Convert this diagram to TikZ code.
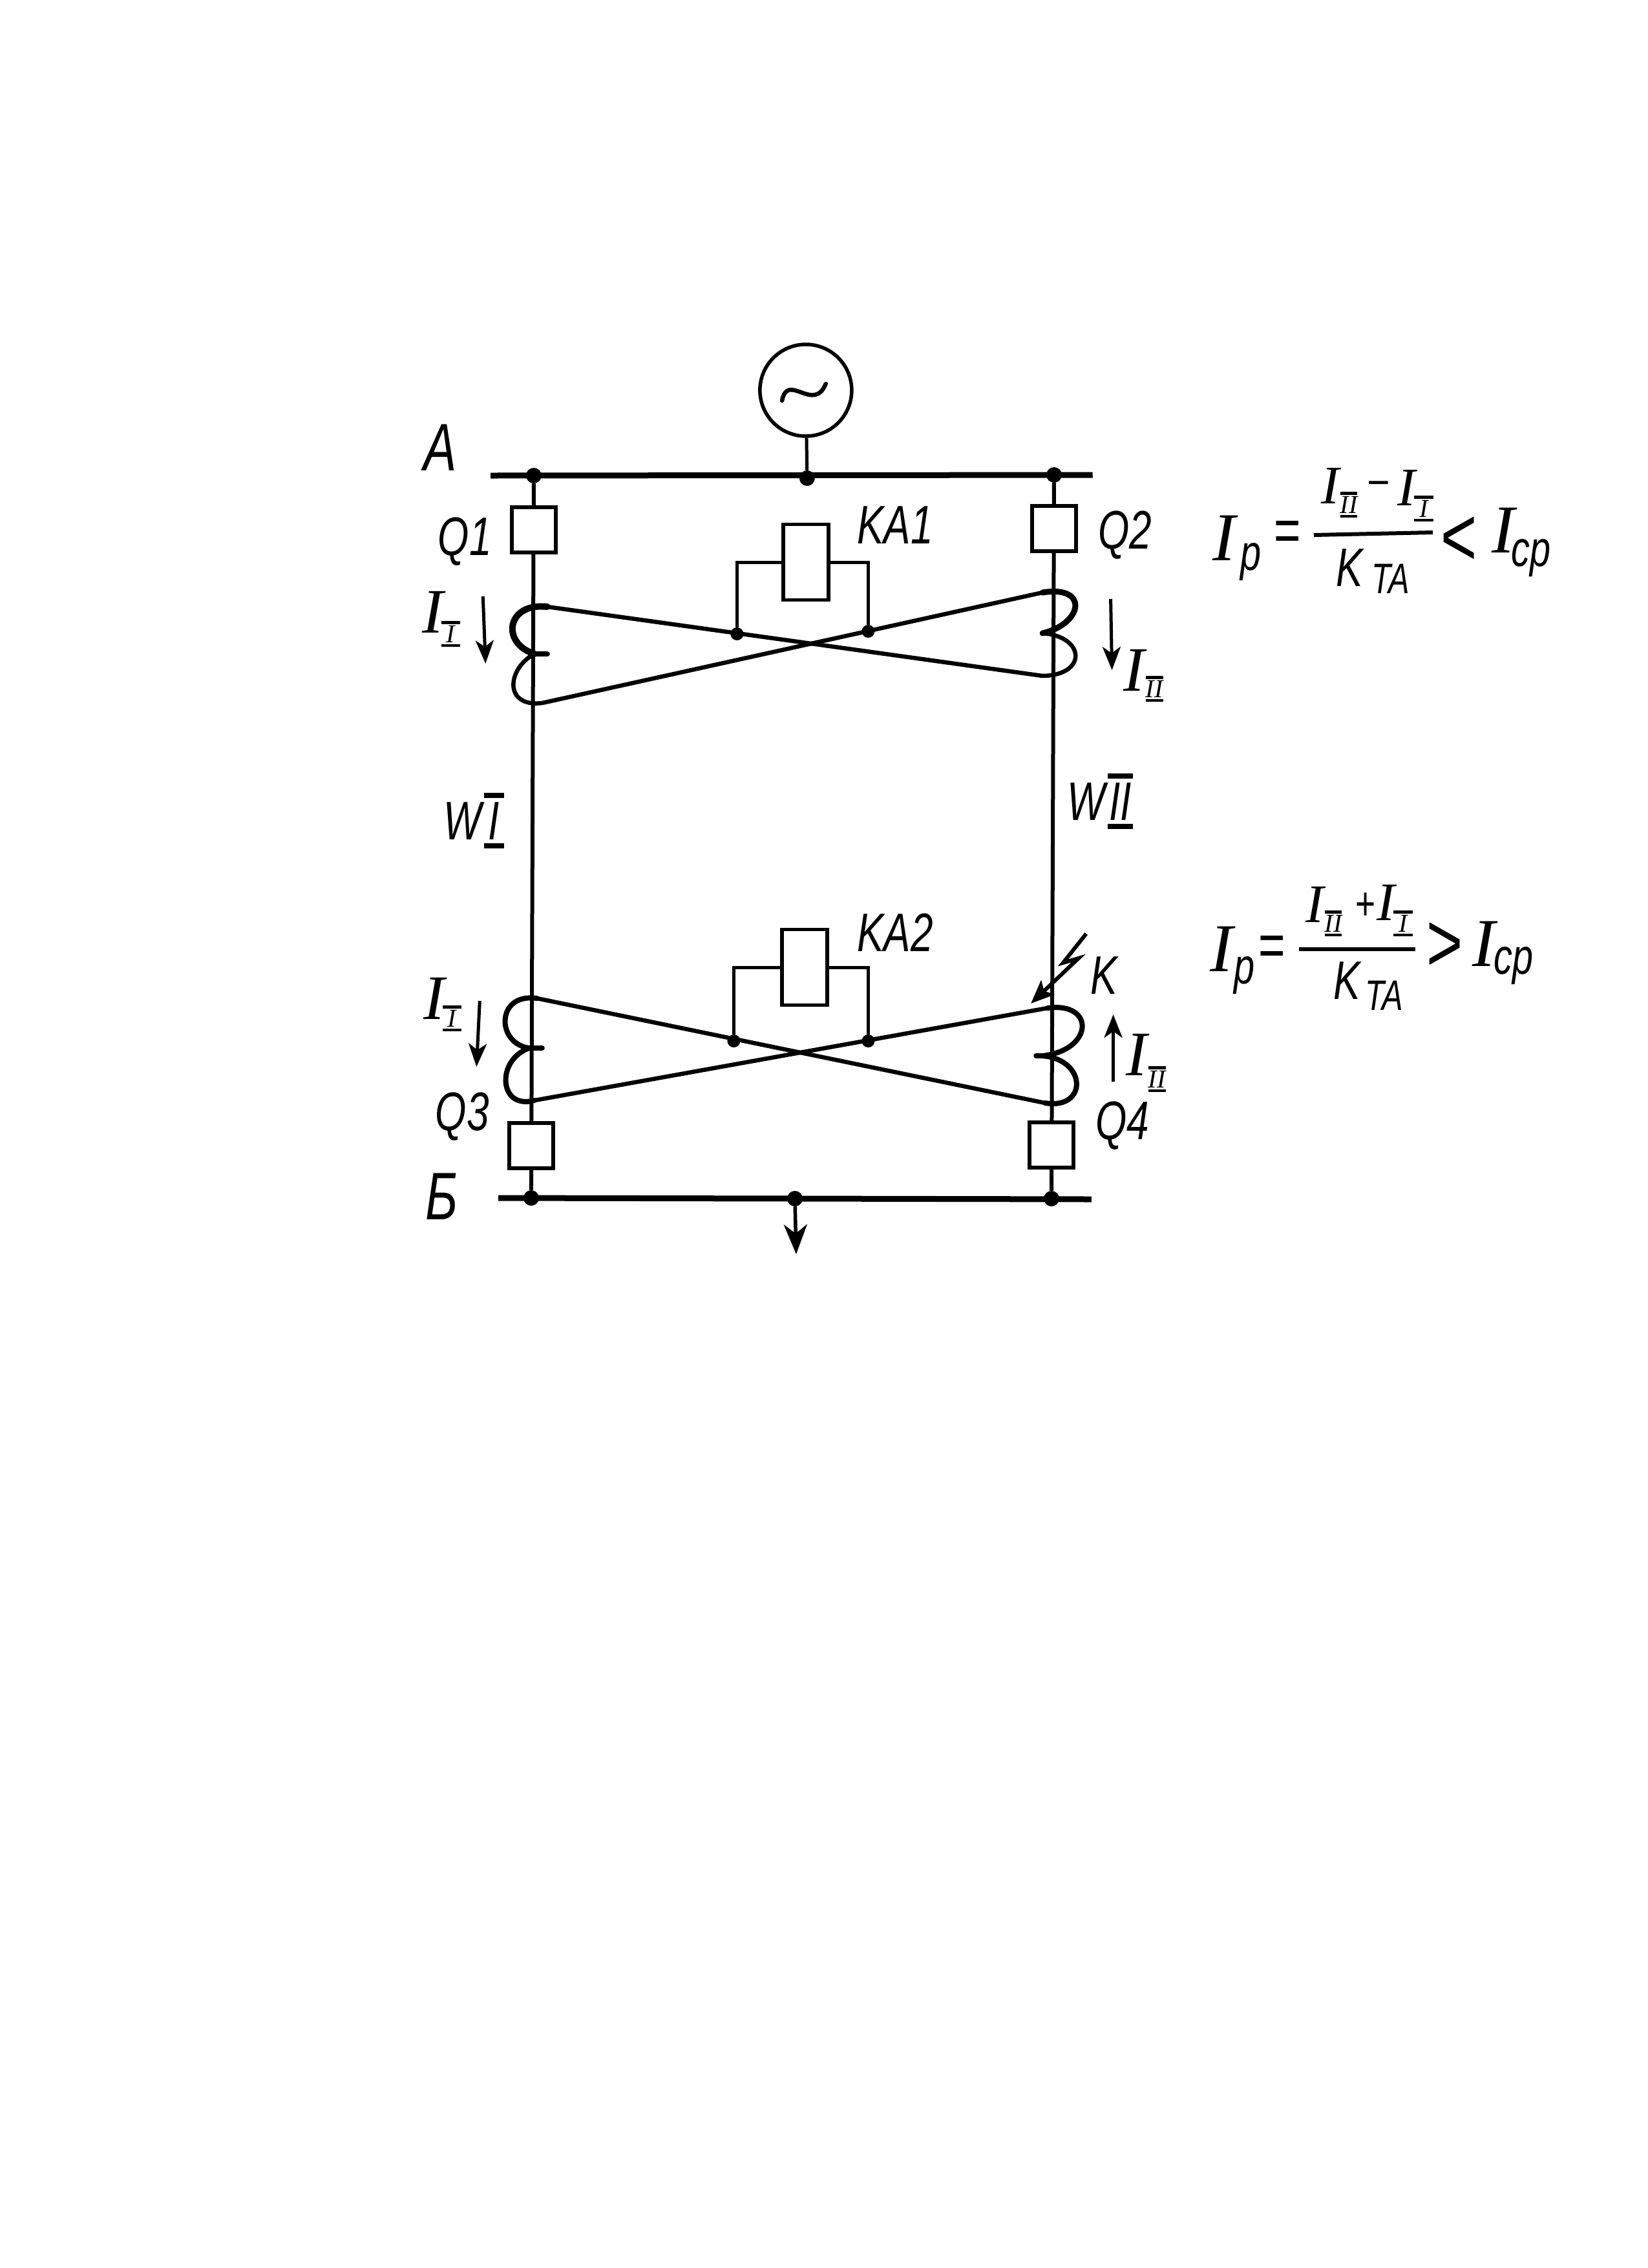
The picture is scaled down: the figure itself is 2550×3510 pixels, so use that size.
\documentclass[tikz,border=0pt]{standalone}
\usepackage{fontspec}
\usetikzlibrary{arrows.meta}
\newfontfamily\sanslab{Liberation Sans}[ItalicFont=* Italic,FakeStretch=.74]
\newfontfamily\seriflab{Liberation Serif}[ItalicFont=* Italic]
\newcommand\barw{.12em}
\newcommand\barred[1]{\setbox0\hbox{#1}\rlap{\rule[-.16em]{\wd0}{\barw}}\rlap{\rule[\dimexpr\ht0+.08em]{\wd0}{\barw}}\box0}
\tikzset{
  bus/.style={line width=9pt},
  wire/.style={line width=6pt},
  cross/.style={line width=6.5pt},
  coil/.style={line width=8pt,line cap=round},
  thinline/.style={line width=5pt},
  cur/.style={line width=5pt,-{Stealth[length=36pt,width=28pt,inset=10pt]}},
  brk/.style={draw,line width=5.5pt,fill=white,minimum width=68pt,minimum height=70pt,inner sep=0pt},
  relay/.style={draw,line width=5.5pt,fill=white,minimum width=70pt,minimum height=117pt,inner sep=0pt},
  dot/.style={circle,fill=black,minimum size=24pt,inner sep=0pt},
  smalldot/.style={circle,fill=black,minimum size=20pt,inner sep=0pt},
  lab/.style={inner sep=0pt,font=\sanslab\itshape\fontsize{84}{84}\selectfont},
  big/.style={inner sep=0pt,font=\sanslab\itshape\fontsize{104}{104}\selectfont},
  cur I/.style={inner sep=0pt,font=\seriflab\itshape\fontsize{98}{98}\selectfont},
  frac I/.style={inner sep=0pt,font=\seriflab\itshape\fontsize{84}{84}\selectfont},
  main I/.style={inner sep=0pt,font=\seriflab\itshape\fontsize{106}{106}\selectfont},
  sub/.style={inner sep=0pt,font=\seriflab\itshape\fontsize{40}{40}\selectfont},
  small/.style={inner sep=0pt,font=\sanslab\itshape\fontsize{66}{66}\selectfont},
  mid/.style={inner sep=0pt,font=\sanslab\itshape\fontsize{78}{78}\selectfont},
  op/.style={inner sep=0pt,font=\sanslab\fontsize{72}{72}\selectfont},
  rel/.style={inner sep=0pt,font=\sanslab\fontsize{130}{130}\selectfont},
}
\begin{document}
\begin{tikzpicture}[x=1pt,y=-1pt]
\useasboundingbox (0,0) rectangle (2550,3510);
\fill[white] (0,0) rectangle (2550,3510);
\begin{scope}[x=.9952pt,xshift=2.88pt]
% buses
\coordinate (aL) at (760,736); \coordinate (aR) at (1696,735);
\coordinate (bL) at (772,1854); \coordinate (bR) at (1694,1856);
\draw[bus] (aL) -- (aR);
\draw[bus] (bL) -- (bR);
\node[dot] (a1) at (827,736) {};
\node[dot] (a2) at (1252,740) {};
\node[dot] (a3) at (1636,735) {};
\node[dot] (b1) at (823,1854) {};
\node[dot] (b2) at (1233,1855) {};
\node[dot] (b3) at (1632,1855) {};
% generator
\node[circle,draw,line width=5.5pt,fill=white,minimum size=142pt,inner sep=0pt] (gen) at (1250,604) {};
\draw[line width=5pt] (gen) -- (a2);
\coordinate (t1) at (1213,620); \coordinate (t2) at (1281,594);
\draw[line width=6.5pt,line cap=round] (t1) .. controls (1222,575) and (1262,640) .. (t2);
% main vertical wires
\draw[wire] (a1) -- (b1);
\draw[wire] (a3) -- (b3);
% breakers
\node[brk] (Q1) at (827,820) {};
\node[brk] (Q2) at (1636,818) {};
\node[brk] (Q3) at (823,1773) {};
\node[brk] (Q4) at (1632,1772) {};
% load
\coordinate (load) at (1235,1941);
\draw[line width=5.5pt,-{Stealth[length=46pt,width=36pt,inset=14pt]}] (b2) -- (load);
% upper relay
\coordinate (c1) at (848,939); \coordinate (c2) at (1618,1046);
\coordinate (c3) at (840,1088); \coordinate (c4) at (1618,917);
\draw[cross] (c1) -- (c2);
\draw[cross] (c3) -- (c4);
\node[smalldot] (d1) at (1143,981) {};
\node[smalldot] (d2) at (1347,977) {};
\node[relay] (KA1) at (1250,870) {};
\draw[thinline] (d1) |- (KA1.west);
\draw[thinline] (d2) |- (KA1.east);
% upper coils
\coordinate (m1) at (828,1012); \coordinate (tk1) at (848,1012);
\coordinate (m2) at (1618,980);
\draw[line width=10pt,line cap=round] (c1) .. controls (785,932) and (775,995) .. (m1);
\draw[coil] (m1) -- (tk1);
\draw[line width=6.5pt] (m1) .. controls (785,1035) and (780,1095) .. (c3);
\draw[line width=9pt,line cap=round] (c4) .. controls (1690,905) and (1682,965) .. (m2);
\draw[line width=6.5pt] (m2) .. controls (1685,985) and (1688,1045) .. (c2);
% lower relay
\coordinate (e1) at (832,1545); \coordinate (e2) at (1622,1707);
\coordinate (e3) at (828,1703); \coordinate (e4) at (1626,1560);
\draw[cross] (e1) -- (e2);
\draw[cross] (e3) -- (e4);
\node[smalldot] (f1) at (1138,1611) {};
\node[smalldot] (f2) at (1347,1611) {};
\node[relay] (KA2) at (1248,1497) {};
\draw[thinline] (f1) |- (KA2.west);
\draw[thinline] (f2) |- (KA2.east);
% lower coils
\coordinate (n1) at (820,1622); \coordinate (tk2) at (840,1622);
\coordinate (n2) at (1618,1634); \coordinate (tk3) at (1608,1634);
\draw[coil] (e1) .. controls (768,1536) and (768,1615) .. (n1);
\draw[coil] (n1) -- (tk2);
\draw[coil] (n1) .. controls (768,1640) and (772,1718) .. (e3);
\draw[coil] (e4) .. controls (1700,1550) and (1698,1625) .. (n2);
\draw[coil] (n2) -- (tk3);
\draw[coil] (n2) .. controls (1688,1640) and (1688,1718) .. (e2);
% fault mark
\coordinate (k1) at (1686,1445); \coordinate (k2) at (1650,1490);
\coordinate (k3) at (1674,1483); \coordinate (k4) at (1600,1553);
\draw[line width=6pt,-{Stealth[length=36pt,width=30pt,inset=8pt]}] (k1) -- (k2) -- (k3) -- (k4);
% current arrows
\coordinate (ar1s) at (748,923); \coordinate (ar1e) at (752,1027);
\coordinate (ar2s) at (1724,927); \coordinate (ar2e) at (1726,1037);
\coordinate (ar3s) at (743,1549); \coordinate (ar3e) at (738,1651);
\coordinate (ar4s) at (1728,1674); \coordinate (ar4e) at (1728,1570);
\draw[cur] (ar1s) -- (ar1e);
\draw[cur] (ar2s) -- (ar2e);
\draw[cur] (ar3s) -- (ar3e);
\draw[cur] (ar4s) -- (ar4e);
% labels
\node[big] (lA) at (682,693) {A};
\node[big] (lB) at (684,1852) {Б};
\node[lab] (lQ1) at (720,838) {Q1};
\node[lab] (lQ2) at (1746,828) {Q2};
\node[lab] (lQ3) at (716,1728) {Q3};
\node[lab] (lQ4) at (1742,1742) {Q4};
\node[lab] (lKA1) at (1389,813) {KA1};
\node[lab] (lKA2) at (1389,1443) {KA2};
\node[lab] (lK) at (1714,1510) {K};
\node[lab] (lW1) at (734,1270) {\renewcommand\barw{.085em}W\kern.04em\barred{\kern.08em I\kern.08em}};
\node[lab] (lW2) at (1708,1240) {\renewcommand\barw{.085em}W\kern.04em\barred{\kern.03em II\kern.03em}};
% current labels
\node[cur I] (i1) at (670,947) {I};
\node[sub] (i1s) at (698,981) {\barred{\kern.2em I\kern.2em}};
\node[cur I] (i2) at (1760,1037) {I};
\node[sub] (i2s) at (1792,1066) {\barred{II}};
\node[cur I] (i3) at (672,1545) {I};
\node[sub] (i3s) at (700,1576) {\barred{\kern.2em I\kern.2em}};
\node[cur I] (i4) at (1764,1632) {I};
\node[sub] (i4s) at (1796,1670) {\barred{II}};
\end{scope}
% formula 1
\begin{scope}[xshift=-2pt]
\node[main I] (p1I) at (1896,833) {I};
\node[mid] (p1p) at (1938,870) {p};
\node[op,font=\sanslab\fontsize{96}{96}\selectfont] (p1e) at (1994,830) {=};
\coordinate (b1l) at (2035,828); \coordinate (b1r) at (2219,824);
\draw[line width=6pt] (b1l) -- (b1r);
\node[frac I] (n1I) at (2060,752) {I};
\node[sub] (n1s) at (2089,781) {\barred{II}};
\node[op] (n1m) at (2135,755) {–};
\node[frac I] (n2I) at (2178,755) {I};
\node[sub] (n2s) at (2205,787) {\barred{\kern.2em I\kern.2em}};
\node[lab] (k1K) at (2090,879) {K};
\node[small] (k1T) at (2154,896) {TA};
\node[rel] (lt) at (2260,838) {<};
\node[main I] (c1I) at (2328,821) {I};
\node[mid] (c1c) at (2371,864) {cp};
\end{scope}
% formula 2
\begin{scope}[xshift=-2pt,yshift=4pt]
\node[main I] (p2I) at (1892,1473) {I};
\node[mid] (p2p) at (1928,1514) {p};
\node[op,font=\sanslab\fontsize{96}{96}\selectfont] (p2e) at (1970,1476) {=};
\coordinate (b2l) at (2012,1473); \coordinate (b2r) at (2192,1473);
\draw[line width=6pt] (b2l) -- (b2r);
\node[frac I] (m1I) at (2036,1404) {I};
\node[sub] (m1s) at (2065,1433) {\barred{II}};
\node[op] (m1p) at (2115,1407) {+};
\node[frac I] (m2I) at (2146,1401) {I};
\node[sub] (m2s) at (2173,1433) {\barred{\kern.2em I\kern.2em}};
\node[lab] (k2K) at (2086,1522) {K};
\node[small] (k2T) at (2144,1545) {TA};
\node[rel] (gt) at (2238,1470) {>};
\node[main I] (c2I) at (2298,1465) {I};
\node[mid] (c2c) at (2344,1499) {cp};
\end{scope}
\end{tikzpicture}
\end{document}
